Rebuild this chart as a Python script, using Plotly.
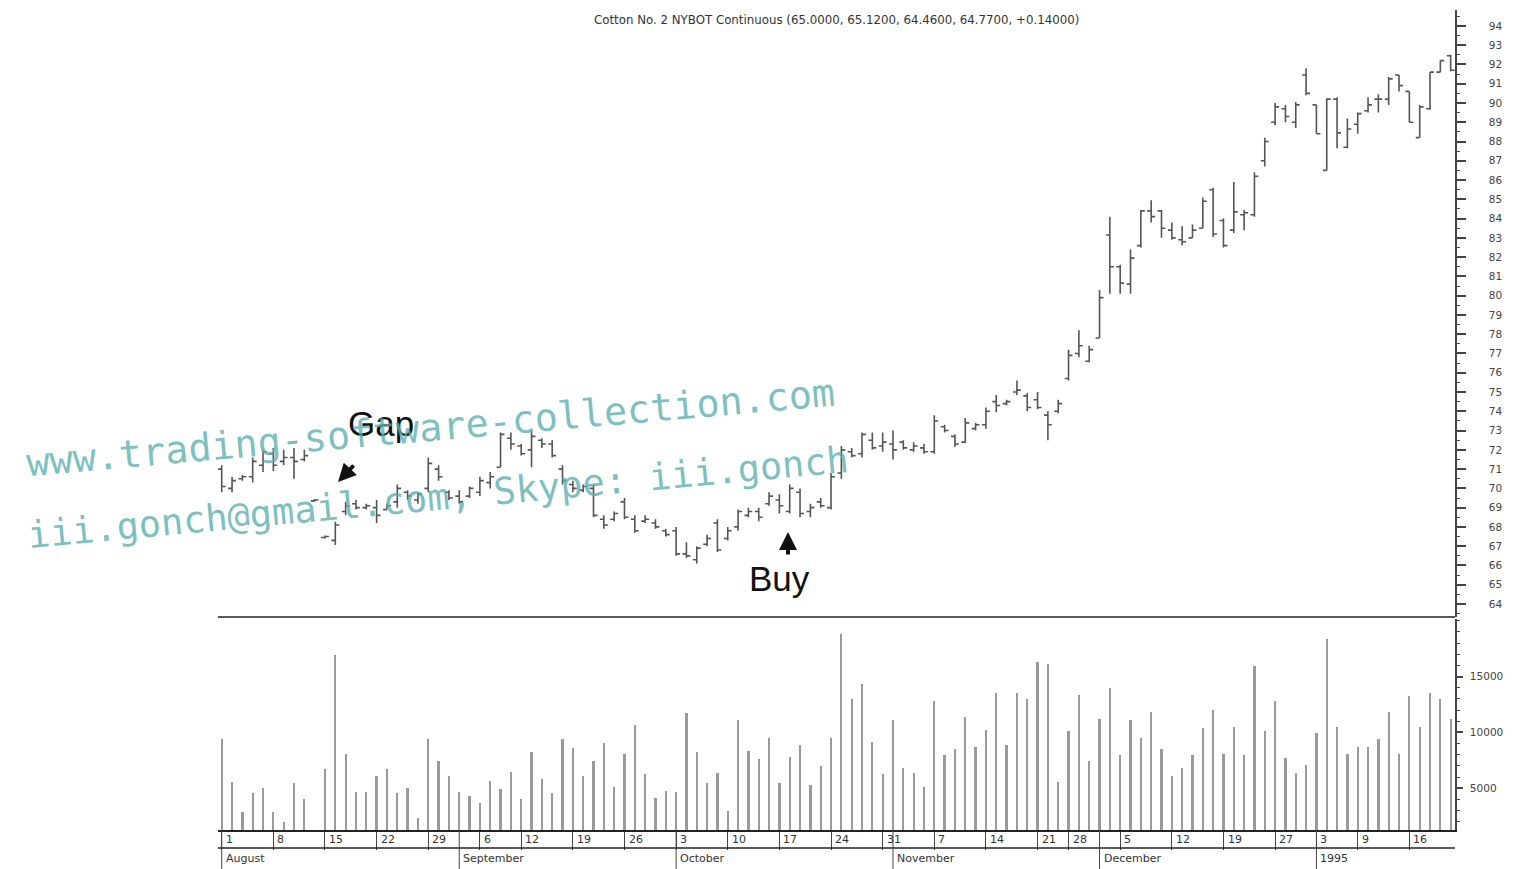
import pandas as pd
import plotly.graph_objects as go

# ---------------- data ----------------
holidays = ["1994-09-05", "1994-11-24", "1994-11-25", "1994-12-26", "1995-01-02"]
dates = [d.strftime("%Y-%m-%d") for d in pd.bdate_range("1994-08-01", "1995-01-20")
         if d.strftime("%Y-%m-%d") not in holidays]

high = [71.2, 70.6, 70.7, 71.6, 72.0, 72.1, 72.0, 72.1, 72.0, 69.45,
        67.55, 68.27, 69.3, 69.4, 69.2, 69.4, 69.2, 70.2, 69.9, 69.8,
        71.6, 71.2, 69.9, 69.9, 70.1, 70.6, 70.85, 72.9, 72.9, 72.3,
        73.0, 72.6, 72.5, 71.2, 70.4, 70.2, 70.2, 68.6, 68.8, 69.5,
        68.6, 68.6, 68.4, 67.9, 68.0, 67.2, 67.0, 67.6, 68.4, 68.0,
        68.9, 69.0, 69.0, 69.8, 69.7, 70.2, 70.0, 69.2, 69.5, 70.8,
        72.2, 72.1, 72.9, 72.9, 72.9, 73.0, 72.5, 72.4, 72.3, 73.8,
        73.3, 72.8, 73.65, 73.4, 74.2, 74.85, 74.6, 75.6, 74.95, 75.0,
        74.0, 74.6, 77.2, 78.2, 77.4, 80.3, 84.1, 81.6, 82.4, 84.45,
        84.95, 84.45, 83.8, 83.6, 83.7, 85.1, 85.6, 84.0, 85.9, 84.45,
        86.4, 88.2, 90.0, 89.9, 90.05, 91.8, 89.9, 90.25, 90.3, 89.2,
        89.5, 90.3, 90.45, 91.35, 91.45, 90.6, 89.9, 91.6, 92.2, 92.5]
low = [69.8, 69.8, 70.4, 70.3, 70.85, 70.9, 71.2, 70.5, 71.4, 69.3,
       67.4, 67.06, 68.6, 68.9, 68.9, 68.2, 68.9, 69.0, 69.4, 69.2,
       69.8, 70.4, 69.4, 69.2, 69.5, 69.6, 70.0, 71.1, 72.0, 71.7,
       71.1, 72.1, 71.6, 70.2, 69.8, 69.8, 68.5, 67.9, 68.3, 68.4,
       67.7, 68.2, 67.9, 67.5, 66.5, 66.4, 66.1, 67.0, 66.7, 67.3,
       67.8, 68.5, 68.3, 69.1, 68.7, 68.7, 68.5, 68.5, 69.0, 68.9,
       70.5, 71.6, 71.6, 72.0, 71.9, 71.5, 72.0, 71.9, 71.8, 71.8,
       72.9, 72.15, 72.35, 73.0, 73.1, 73.95, 74.3, 74.85, 74.0, 74.1,
       72.5, 73.9, 75.6, 76.8, 76.55, 77.8, 80.1, 80.1, 80.1, 82.5,
       83.8, 83.0, 82.9, 82.6, 83.0, 83.5, 83.05, 82.5, 83.25, 83.4,
       84.1, 86.7, 88.85, 89.0, 88.7, 90.4, 88.4, 86.5, 87.65, 87.65,
       88.4, 89.5, 89.5, 89.9, 90.6, 89.0, 88.2, 89.65, 91.6, 91.65]
open_ = [71.0, 70.0, 70.5, 70.6, 71.2, 71.8, 71.4, 71.6, 71.5, 69.35,
         67.45, 67.3, 68.8, 69.2, 69.0, 69.0, 68.9, 69.3, 69.8, 69.4,
         70.0, 71.0, 69.8, 69.6, 69.6, 69.8, 70.3, 71.1, 72.6, 72.2,
         72.0, 72.5, 72.3, 71.0, 70.2, 69.9, 70.0, 68.4, 68.4, 69.3,
         68.4, 68.3, 68.2, 67.8, 67.8, 66.6, 66.3, 67.1, 68.2, 67.4,
         68.0, 68.6, 68.8, 69.2, 69.4, 68.8, 69.8, 68.8, 69.3, 69.0,
         70.8, 71.9, 71.8, 72.5, 72.2, 72.3, 72.4, 72.0, 72.1, 71.9,
         73.2, 72.7, 72.4, 73.1, 73.3, 74.5, 74.4, 75.0, 74.8, 74.6,
         73.8, 74.0, 75.7, 77.0, 76.6, 77.8, 83.15, 81.5, 80.6, 82.6,
         84.4, 84.4, 83.4, 82.9, 83.0, 83.5, 85.5, 83.9, 83.4, 84.2,
         84.2, 87.0, 89.0, 89.7, 89.0, 91.45, 89.9, 86.5, 90.2, 87.7,
         88.9, 89.6, 90.2, 90.2, 91.45, 90.6, 88.2, 89.7, 91.6, 92.45]
close = [70.1, 70.4, 70.6, 71.4, 71.9, 71.2, 71.6, 71.4, 71.7, 69.4,
         67.5, 68.1, 69.1, 69.0, 69.1, 68.6, 69.1, 70.0, 69.6, 69.7,
         71.3, 70.6, 69.5, 69.3, 70.0, 70.4, 70.6, 72.8, 72.3, 71.8,
         72.7, 72.3, 71.7, 70.4, 70.0, 70.1, 68.6, 68.1, 68.7, 68.5,
         67.8, 68.4, 68.0, 67.6, 66.6, 66.5, 66.9, 67.4, 66.8, 67.8,
         68.8, 68.8, 68.5, 69.6, 69.1, 70.0, 68.7, 69.0, 69.1, 70.6,
         72.0, 71.7, 72.8, 72.1, 72.4, 72.0, 72.1, 72.2, 71.9, 73.5,
         73.0, 72.3, 73.4, 73.3, 74.0, 74.3, 74.5, 75.1, 74.2, 74.2,
         73.3, 74.4, 76.9, 77.4, 77.2, 79.9, 81.5, 80.65, 81.95, 84.4,
         84.1, 83.5, 83.0, 82.8, 83.4, 84.9, 83.2, 82.6, 84.35, 84.3,
         86.2, 88.0, 89.8, 89.3, 89.9, 90.5, 88.4, 90.2, 88.45, 88.65,
         89.45, 89.9, 90.2, 91.25, 90.9, 89.0, 89.8, 91.6, 92.2, 91.7]
volume = [9400, 5600, 2850, 4550, 5000, 2850, 1950, 5450, 4050, 1000,
          6700, 16950, 8050, 4650, 4650, 6100, 6700, 4550, 5000, 2300,
          9400, 7400, 6100, 4650, 4300, 3650, 5650, 4950, 6450, 4050,
          8200, 5800, 4550, 9400, 8600, 6100, 7400, 9050, 5150, 8050,
          10700, 6250, 4150, 4750, 4650, 11700, 8200, 5500, 6400, 3000,
          11100, 8350, 7600, 9500, 5450, 7800, 8850, 5300, 7000, 9500,
          18800, 13000, 14300, 9150, 6250, 11100, 6850, 6400, 5150, 12850,
          7950, 8550, 11400, 8700, 10250, 13550, 8900, 13550, 13000, 16350,
          16100, 5600, 10150, 13350, 7450, 11200, 14000, 7950, 11100, 9500,
          11850, 8500, 6100, 6850, 7950, 10350, 12050, 8050, 10500, 7950,
          15950, 10100, 12800, 7750, 6400, 7100, 9950, 18350, 10450, 8100,
          8700, 8700, 9450, 11800, 8050, 13250, 10450, 13500, 13000, 11200]

day_ticks = ["1994-08-01", "1994-08-08", "1994-08-15", "1994-08-22", "1994-08-29",
             "1994-09-06", "1994-09-12", "1994-09-19", "1994-09-26", "1994-10-03",
             "1994-10-10", "1994-10-17", "1994-10-24", "1994-10-31", "1994-11-07",
             "1994-11-14", "1994-11-21", "1994-11-28", "1994-12-05", "1994-12-12",
             "1994-12-19", "1994-12-27", "1995-01-03", "1995-01-09", "1995-01-16"]
month_ticks = ["1994-08-01", "1994-09-01", "1994-10-03", "1994-11-01", "1994-12-01", "1995-01-03"]
month_names = ["August", "September", "October", "November", "December", "1995"]
price_ticks = list(range(64, 95))
volume_ticks = [5000, 10000, 15000]

title_text = "Cotton No. 2 NYBOT Continuous (65.0000, 65.1200, 64.4600, 64.7700, +0.14000)"

# ---------------- figure ----------------
# the page body has an 8px margin, so the figure is drawn 8px smaller
OFF = 8
W, H = 1515 - OFF, 869 - OFF
L, R, T, B = 218 - OFF, 60, 10 - OFF, 39
PW, PH = W - L - R, H - T - B


def px(xs):  # screen x -> paper x
    return (xs - OFF - L) / PW


def py(ys):  # screen y -> paper y
    return (H - B - (ys - OFF)) / PH


idx = list(range(len(dates)))
fig = go.Figure()
fig.add_trace(go.Ohlc(
    x=idx, open=open_, high=high, low=low, close=close,
    increasing=dict(line=dict(color="#555555", width=1.6)),
    decreasing=dict(line=dict(color="#555555", width=1.6)),
    tickwidth=0.38, yaxis="y", xaxis="x", showlegend=False, hoverinfo="skip"))
fig.add_trace(go.Bar(
    x=idx, y=volume, width=0.22, marker=dict(color="#9a9a9a", line=dict(width=0)),
    yaxis="y2", xaxis="x", showlegend=False))

tick_font = dict(family="DejaVu Sans", size=10.5, color="#444444")
day_idx = [dates.index(d) for d in day_ticks]
month_idx = [dates.index(d) for d in month_ticks]

fig.update_layout(
    width=W, height=H, margin=dict(l=L, r=R, t=T, b=B),
    paper_bgcolor="white", plot_bgcolor="white",
    showlegend=False, bargap=0,
    xaxis=dict(range=[-0.36, 119.42], anchor="y2", showgrid=False, zeroline=False,
               rangeslider=dict(visible=False), showline=True, linecolor="#222", linewidth=1.5,
               tickmode="array", tickvals=day_idx, ticktext=[""] * len(day_idx),
               ticks="outside", ticklen=18, tickcolor="#444", tickwidth=1),
    yaxis=dict(domain=[py(617), 1.0], range=[64 + (604 - 617) / 19.27, 64 + (604 - 10) / 19.27],
               side="right", showgrid=False, zeroline=False, showline=True, linecolor="#444",
               linewidth=1.5, tickmode="array", tickvals=price_ticks,
               ticktext=[str(v) for v in price_ticks], ticks="outside", ticklen=9,
               tickcolor="#444", tickwidth=1.5, tickfont=tick_font, ticklabelstandoff=21,
               minor=dict(dtick=0.5, ticks="outside", ticklen=3, tickcolor="#444", tickwidth=1)),
    yaxis2=dict(domain=[0, py(619)], range=[(844 - 830) / 55.8 * 5000, (844 - 619) / 55.8 * 5000],
                side="right", anchor="x", showgrid=False, zeroline=False, showline=True,
                linecolor="#444", linewidth=1.5, tickmode="array", tickvals=volume_ticks,
                ticktext=[str(v) for v in volume_ticks], ticks="outside", ticklen=6,
                tickcolor="#444", tickwidth=1.5, tickfont=tick_font, ticklabelstandoff=5,
                minor=dict(dtick=1000, ticks="outside", ticklen=3, tickcolor="#444", tickwidth=1)),
)

shapes = []
shapes.append(dict(type="line", xref="paper", yref="paper", x0=0, x1=1, y0=py(617), y1=py(617),
                   line=dict(color="#222", width=1.5)))
shapes.append(dict(type="line", xref="paper", yref="paper", x0=0, x1=1, y0=py(848), y1=py(848),
                   line=dict(color="#222", width=1.5)))
for mi in month_idx:
    shapes.append(dict(type="line", xref="x", yref="paper", x0=mi, x1=mi, y0=py(830), y1=py(869),
                       line=dict(color="#444", width=1)))
fig.update_layout(shapes=shapes)

ann = []
label_font = dict(family="DejaVu Sans", size=11, color="#333333")
for i, d in zip(day_idx, day_ticks):
    ann.append(dict(x=i + 0.2, y=py(839), xref="x", yref="paper", text=str(int(d[-2:])),
                    showarrow=False, xanchor="left", yanchor="middle", font=label_font))
for i, name in zip(month_idx, month_names):
    ann.append(dict(x=i + 0.2, y=py(858), xref="x", yref="paper", text=name,
                    showarrow=False, xanchor="left", yanchor="middle", font=label_font))
ann.append(dict(x=px(836), y=py(20), xref="paper", yref="paper", text=title_text, showarrow=False,
                xanchor="center", yanchor="middle",
                font=dict(family="DejaVu Sans", size=11.8, color="#333")))
big_font = dict(family="Liberation Sans, Arial", size=35, color="#111")
ann.append(dict(x=px(381), y=py(423), xref="paper", yref="paper", text="Gap", showarrow=False,
                xanchor="center", yanchor="middle", font=big_font))
ann.append(dict(x=px(779), y=py(578), xref="paper", yref="paper", text="Buy", showarrow=False,
                xanchor="center", yanchor="middle", font=big_font))
ann.append(dict(x=px(338), y=py(482), xref="paper", yref="paper", text="", showarrow=True,
                ax=17, ay=-18, arrowhead=2, arrowsize=0.9, arrowwidth=4, arrowcolor="#111"))
ann.append(dict(x=px(788), y=py(532), xref="paper", yref="paper", text="", showarrow=True,
                ax=0, ay=24, arrowhead=2, arrowsize=0.9, arrowwidth=4, arrowcolor="#111"))
wm_color = "rgba(90,175,175,0.8)"
ann.append(dict(x=px(430), y=py(427), xref="paper", yref="paper",
                text="www.trading-software-collection.com", showarrow=False,
                xanchor="center", yanchor="middle", textangle=-5,
                font=dict(family="DejaVu Sans Mono", size=38.5, color=wm_color)))
ann.append(dict(x=px(438), y=py(497), xref="paper", yref="paper",
                text="iii.gonch@gmail.com, Skype: iii.gonch", showarrow=False,
                xanchor="center", yanchor="middle", textangle=-5.3,
                font=dict(family="DejaVu Sans Mono", size=37, color=wm_color)))
fig.update_layout(annotations=ann)

fig.write_html("out.html")
